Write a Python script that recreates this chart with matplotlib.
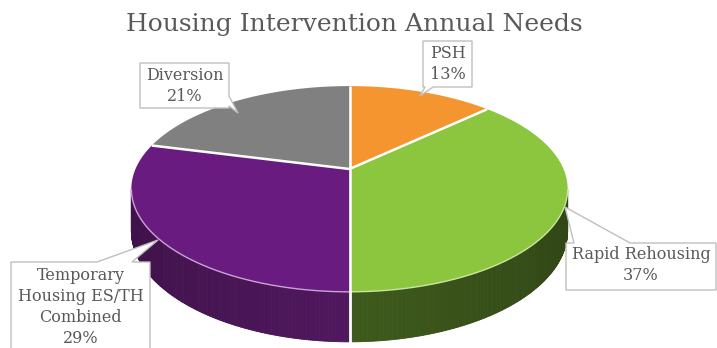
import numpy as np
import matplotlib.pyplot as plt
from matplotlib.patches import Polygon
from matplotlib.collections import PolyCollection
from matplotlib.colors import to_rgb

# ---- data ----
title = "Housing Intervention Annual Needs"
names = ["PSH", "Rapid Rehousing", "Temporary\nHousing ES/TH\nCombined", "Diversion"]
shares = [13, 37, 29, 21]

# ---- styling ----
top_colors = ["#F4952F", "#8CC63F", "#6A1B80", "#808080"]
side_colors = ["#B86C1E", "#3E5A1C", "#50175E", "#5A5A5A"]
rim_colors = ["#F9C98E", "#C8E69E", "#C9A2D6", "#BDBDBD"]
text_color = "#595959"
box_edge = "#BFBFBF"
FONT = "DejaVu Serif"

W, H = 717, 348
fig = plt.figure(figsize=(W / 100, H / 100), dpi=100)
ax = fig.add_axes([0, 0, 1, 1])
ax.set_xlim(0, W)
ax.set_ylim(H, 0)
ax.axis("off")

# projected 3D disc (mild perspective: the far edge is foreshortened)
CX, CY = 349.5, 169.0
RX, RY = 214.0, 99.0
K = 0.194
DEPTH = 40.3


def scale(phi):
    return 1.0 / (1.0 + K * np.sin(phi))


def top(phi):
    sc = scale(phi)
    return CX + RX * np.cos(phi) * sc, CY - RY * np.sin(phi) * sc


def bottom(phi):
    x, y = top(phi)
    return x, y + DEPTH * scale(phi)


total = float(sum(shares))
bounds = np.radians(90.0 - 360.0 * np.concatenate([[0], np.cumsum(shares)]) / total)

# visible part of the cylinder wall
a = np.arcsin(K)
vis_lo, vis_hi = -np.pi + a, -a


def visible_parts(lo, hi):
    parts = []
    for k in range(-2, 3):
        l = max(lo, vis_lo + 2 * np.pi * k)
        h = min(hi, vis_hi + 2 * np.pi * k)
        if h > l:
            parts.append((l, h))
    return parts


# side walls, shaded toward the silhouette
for i in range(len(shares)):
    hi, lo = bounds[i], bounds[i + 1]
    base = np.array(to_rgb(side_colors[i]))
    for l, h in visible_parts(lo, hi):
        phis = np.linspace(l, h, 160)
        quads, cols = [], []
        for p0, p1 in zip(phis[:-1], phis[1:]):
            quads.append([top(p0), top(p1), bottom(p1), bottom(p0)])
            f = 1.0 - 0.22 * abs(np.cos(0.5 * (p0 + p1)))
            cols.append(np.clip(base * f, 0, 1))
        pc = PolyCollection(quads, facecolors=cols, edgecolors=cols,
                            linewidths=0.6, zorder=2)
        ax.add_collection(pc)
        # light rim along the top edge of the wall
        xs, ys = top(phis)
        ax.plot(xs, ys, color=rim_colors[i], lw=1.0, zorder=4,
                solid_capstyle="butt")

# wall seams at slice boundaries
for b in bounds[:-1]:
    bb = (b + np.pi) % (2 * np.pi) - np.pi
    if vis_lo < bb < vis_hi:
        x0, y0 = top(bb)
        x1, y1 = bottom(bb)
        ax.plot([x0, x1], [y0, y1], color="white", lw=2.0, zorder=3)

# top faces
for i in range(len(shares)):
    hi, lo = bounds[i], bounds[i + 1]
    phis = np.linspace(hi, lo, 200)
    xs, ys = top(phis)
    verts = [(CX, CY)] + list(zip(xs, ys))
    ax.add_patch(Polygon(verts, closed=True, facecolor=top_colors[i],
                         edgecolor="none", zorder=3))

# white separators on the top face
for b in bounds[:-1]:
    x, y = top(b)
    ax.plot([CX, x], [CY, y], color="white", lw=1.8, zorder=5,
            solid_capstyle="butt")


def callout(rect, edge, base, tip):
    x0, y0, x1, y1 = rect
    b0, b1 = base
    if edge == "top":
        v = [(x0, y0), (b0, y0), tip, (b1, y0), (x1, y0), (x1, y1), (x0, y1)]
    elif edge == "right":
        v = [(x0, y0), (x1, y0), (x1, b0), tip, (x1, b1), (x1, y1), (x0, y1)]
    elif edge == "bottom":
        v = [(x0, y0), (x1, y0), (x1, y1), (b1, y1), tip, (b0, y1), (x0, y1)]
    else:
        v = [(x0, y0), (x1, y0), (x1, y1), (x0, y1), (x0, b1), tip, (x0, b0)]
    ax.add_patch(Polygon(v, closed=True, facecolor="white", edgecolor=box_edge,
                         lw=1.0, zorder=6, joinstyle="miter"))


# data labels with callout boxes
label_layout = [
    dict(rect=(423, 41, 472, 87), edge="bottom", base=(425, 433), tip=(420, 96),
         center=(447.5, 64)),
    dict(rect=(566, 243, 716, 290), edge="top", base=(574, 630), tip=(565, 207),
         center=(641, 265)),
    dict(rect=(11, 262, 150, 365), edge="top", base=(97, 132), tip=(158, 240),
         center=(80.5, 307)),
    dict(rect=(140, 63, 229, 108), edge="right", base=(96, 106), tip=(238, 113),
         center=(184.5, 86)),
]
for name, share, lay in zip(names, shares, label_layout):
    callout(lay["rect"], lay["edge"], lay["base"], lay["tip"])
    ax.text(*lay["center"], f"{name}\n{share}%", ha="center", va="center",
            fontsize=11.5, family=FONT, color=text_color, linespacing=1.3,
            zorder=7)

ax.text(354, 25, title, ha="center", va="center", fontsize=18, family=FONT,
        color=text_color, zorder=7)

fig.savefig("out.png", dpi=100, facecolor="white")
